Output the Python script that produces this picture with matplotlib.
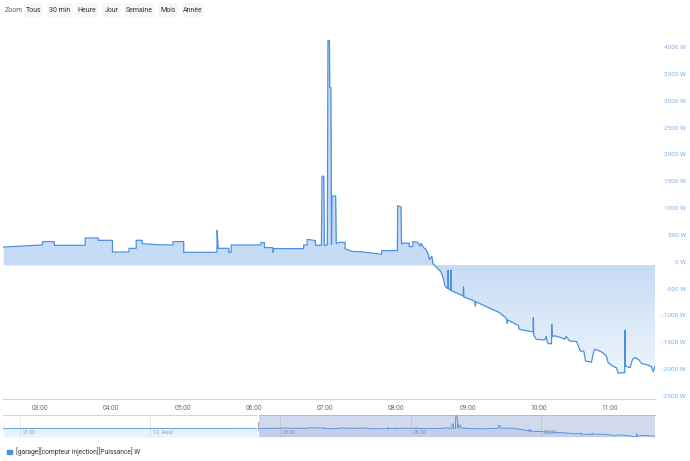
import numpy as np
import matplotlib
matplotlib.use("Agg")
import matplotlib.pyplot as plt
from matplotlib.path import Path
from matplotlib.patches import FancyBboxPatch, Patch
from matplotlib.transforms import blended_transform_factory

plt.rcParams['font.family'] = ['Roboto', 'DejaVu Sans']

# main series (12 Aug), time "HH:MM[:SS]" -> W
times = [
    "02:29", "03:02", "03:02", "03:12", "03:12", "03:38", "03:38", "03:49", "03:49",
    "04:01", "04:01", "04:15", "04:15", "04:21", "04:21", "04:26", "04:26", "04:41",
    "04:52", "04:52", "05:01", "05:01", "05:29", "05:29:10", "05:30", "05:39", "05:39",
    "05:41", "05:41", "06:06", "06:06", "06:09", "06:09", "06:16", "06:16:20", "06:17",
    "06:42", "06:42", "06:45", "06:45", "06:49", "06:52", "06:52",
    "06:57", "06:57:30", "06:59", "06:59:30", "07:02", "07:02:30", "07:03:45", "07:04",
    "07:05", "07:05:30", "07:06", "07:09", "07:09:30", "07:12:30", "07:17", "07:17",
    "07:22:30", "07:29:30", "07:47:40", "07:47:50", "07:59",
    "08:01", "08:01:15", "08:04", "08:04:30", "08:05", "08:07", "08:11", "08:11",
    "08:14", "08:14", "08:18", "08:20", "08:21", "08:23", "08:25", "08:27", "08:28",
    "08:30", "08:31", "08:34", "08:37", "08:38", "08:40", "08:41", "08:42:30",
    "08:43:30", "08:43:45", "08:44", "08:45:45", "08:46", "08:46:15", "08:47",
    "08:56:30", "08:56:40", "08:57", "09:06", "09:06:40", "09:07:10", "09:27",
    "09:33", "09:33:30", "09:34", "09:43", "09:43:30", "09:55:20", "09:55:30",
    "09:55:50", "09:58", "10:05", "10:06:30", "10:07", "10:08", "10:10:50", "10:11",
    "10:11:20", "10:14", "10:19", "10:22", "10:23", "10:26", "10:32", "10:35",
    "10:38", "10:39:30", "10:44:30", "10:45:30", "10:47", "10:50", "10:54", "10:57",
    "10:58:30", "11:01:30", "11:05:30", "11:07", "11:11", "11:12:30", "11:12:40",
    "11:13", "11:17", "11:19", "11:21", "11:24", "11:26:40", "11:31", "11:35",
    "11:36:30", "11:38",
]
watts = [
    330, 370, 432, 432, 363, 363, 500, 500, 456,
    456, 239, 239, 307, 307, 456, 456, 395, 372,
    369, 432, 432, 233, 233, 643, 307, 307, 233,
    233, 369, 369, 413, 413, 320, 320, 233, 302,
    302, 369, 369, 475, 460, 450, 363,
    363, 1650, 1650, 363, 370, 4180, 4180, 3300,
    3300, 380, 1280, 1280, 400, 420, 415, 300,
    250, 246, 196, 264, 264,
    264, 1100, 1080, 390, 395, 405, 405, 339,
    339, 432, 420, 350, 400, 320, 289, 196, 102,
    160, 20, -52, -115, -145, -280, -394, -430,
    -440, -97, -450, -470, -97, -480, -488,
    -581, -410, -600, -674, -767, -690, -891,
    -1000, -1090, -1030, -1130, -1202, -1251, -985,
    -1310, -1388, -1400, -1330, -1420, -1469, -1470, -1110,
    -1330, -1326, -1357, -1388, -1330, -1419, -1431, -1606,
    -1610, -1792, -1815, -1699, -1574, -1593, -1636, -1699,
    -1823, -1872, -1920, -2021, -2008, -2010, -1220,
    -1885, -1915, -1760, -1729, -1760, -1840, -1860, -1897,
    -1990, -1890,
]

# navigator history before the zoomed window (hours from midnight, W)
nav_hours = [-3.39, -2.0, -0.5, 1.0, 2.4]
nav_watts = [290, 300, 300, 310, 320]

hour_ticks = [3, 4, 5, 6, 7, 8, 9, 10, 11]
y_ticks = list(range(-2500, 4001, 500))
nav_ticks = [-3, 0, 3, 6, 9]
nav_labels = ["21:00", "12. Août", "03:00", "06:00", "09:00"]
buttons = ["Tous", "30 min", "Heure", "Jour", "Semaine", "Mois", "Année"]
button_x = [(24, 43), (47, 73), (75.5, 98.5), (102, 121), (124, 155), (158, 178.5), (182, 204)]
series_name = "[garage][compteur injection][Puissance] W"

LINE = '#4a90e2'
FILL = '#c6dbf4'
W, H = 690, 461


def to_hours(s):
    p = [int(x) for x in s.split(':')]
    return p[0] + p[1] / 60 + (p[2] / 3600 if len(p) > 2 else 0)


def box(x0, y0, x1, y1):
    return [x0 / W, 1 - y1 / H, (x1 - x0) / W, (y1 - y0) / H]


t = np.array([to_hours(s) for s in times])
v = np.array(watts, dtype=float)
x0, x1 = 2.48, 11.633

fig = plt.figure(figsize=(W / 100, H / 100), dpi=100)

# main chart
ax = fig.add_axes(box(3, 34, 655, 399))
ax.fill_between(t, v, 0, where=v >= 0, interpolate=True, color=FILL, lw=0, zorder=1)
neg = ax.fill_between(t, v, 0, where=v <= 0, interpolate=True, color='none', lw=0)
clip = Path.make_compound_path(*neg.get_paths())
neg.remove()
top_c = np.array([198, 219, 244]) / 255
bot_c = np.array([240, 246, 253]) / 255
g = np.linspace(0, 1, 256)[:, None]
img = (top_c[None, :] * (1 - g) + bot_c[None, :] * g)[:, None, :]
im = ax.imshow(img, extent=[x0, x1, -2100, 0], aspect='auto', origin='upper', zorder=1)
im.set_clip_path(clip, ax.transData)
ax.plot(t, v, color=LINE, lw=0.9, zorder=3)

ax.set_xlim(x0, x1)
ax.set_ylim(-2500, 4300)
ax.set_xticks(hour_ticks)
ax.set_xticklabels([f"{h:02d}:00" for h in hour_ticks])
ax.tick_params(axis='x', length=0, pad=4, labelsize=4.8, labelcolor='#666666')
ax.yaxis.tick_right()
ax.set_yticks(y_ticks)
ax.set_yticklabels([f"{y} W" for y in y_ticks])
ax.tick_params(axis='y', length=0, pad=22.3, labelsize=4.6, labelcolor='#7cb0ea')
for lab in ax.get_yticklabels():
    lab.set_horizontalalignment('right')
    lab.set_verticalalignment('bottom')
for s in ['top', 'left', 'right']:
    ax.spines[s].set_visible(False)
ax.spines['bottom'].set_color('#ccd6eb')
ax.spines['bottom'].set_linewidth(0.8)

# navigator
nav = fig.add_axes(box(3, 415, 655, 437))
nt = np.concatenate([nav_hours, t])
nv = np.concatenate([nav_watts, v])
nav.fill_between(nt, nv, -2200, color=LINE, alpha=0.12, lw=0)
nav.plot(nt, nv, color=LINE, lw=0.6)
nav.set_xlim(-3.393, x1)
nav.set_ylim(-2200, 4250)
for xv, lab in zip(nav_ticks, nav_labels):
    nav.axvline(xv, color='#e6e6e6', lw=0.6, zorder=0)
    nav.annotate(lab, (xv, 0), xycoords=('data', 'axes fraction'), xytext=(2, 2.5),
                 textcoords='offset points', fontsize=3.9, color='#999999')
nav.axvspan(x0, x1, color=(102 / 255, 133 / 255, 194 / 255), alpha=0.3, lw=0, zorder=4)
nav.axvline(x0, color='white', lw=1.5, zorder=5)
nav.axvline(x0, ymin=0.3, ymax=0.7, color='#999999', lw=0.6, zorder=6)
nav.set_xticks([])
nav.set_yticks([])
for s in ['bottom', 'left', 'right']:
    nav.spines[s].set_visible(False)
nav.spines['top'].set_color('#cccccc')
nav.spines['top'].set_linewidth(0.6)

# range selector
fig.text(5 / W, 1 - 10.5 / H, "Zoom", fontsize=5, color='#666666', va='center')
for lab, (bx0, bx1) in zip(buttons, button_x):
    fig.add_artist(FancyBboxPatch((bx0 / W, 1 - 17.5 / H), (bx1 - bx0) / W, 14.5 / H,
                                  boxstyle="round,pad=0,rounding_size=0.004",
                                  transform=fig.transFigure, fc='#f7f7f7', ec='none'))
    fig.text((bx0 + bx1) / 2 / W, 1 - 10.5 / H, lab, fontsize=5, color='#333333',
             ha='center', va='center')

# legend
fig.legend(handles=[Patch(color=LINE)], labels=[series_name], loc='center left',
           bbox_to_anchor=(4 / W, 1 - 452 / H), frameon=False, fontsize=4.8,
           handlelength=0.7, handleheight=0.7, handletextpad=0.6, borderpad=0,
           labelcolor='#333333')

fig.savefig('out.png', dpi=100)
